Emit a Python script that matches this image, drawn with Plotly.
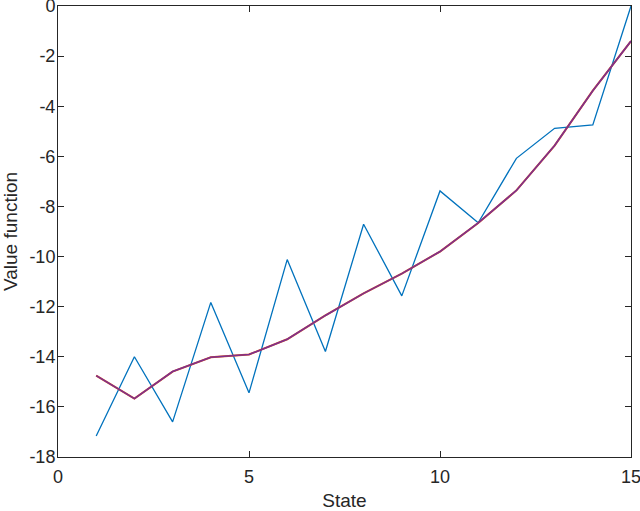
import plotly.graph_objects as go

states = list(range(1, 16))
value_blue = [-17.16, -14.0, -16.6, -11.83, -15.44, -10.12, -13.79, -8.71,
              -11.57, -7.38, -8.65, -6.08, -4.88, -4.75, 0.0]
value_orange = [-14.75, -15.67, -14.59, -14.02, -13.91, -13.3, -12.35, -11.47,
                -10.68, -9.8, -8.66, -7.36, -5.57, -3.38, -1.4]
value_purple = value_orange

x_ticks = [0, 5, 10, 15]
y_ticks = list(range(-18, 1, 2))

fig = go.Figure()
fig.add_trace(go.Scatter(x=states, y=value_blue, mode="lines",
                         line=dict(color="#0072BD", width=1.3)))
fig.add_trace(go.Scatter(x=states, y=value_orange, mode="lines",
                         line=dict(color="#D95319", width=2)))
fig.add_trace(go.Scatter(x=states, y=value_purple, mode="lines",
                         line=dict(color="#7E2F8E", width=1.6)))

axis_style = dict(showgrid=False, zeroline=False, showline=True, linecolor="#262626",
                  linewidth=1, mirror="ticks", ticks="inside", ticklen=6,
                  tickcolor="#262626", tickfont=dict(size=18, color="#262626"),
                  automargin=False, ticklabeloverflow="allow")

fig.update_xaxes(range=[0, 15], tickvals=x_ticks, ticktext=[str(t) for t in x_ticks],
                 ticklabelstandoff=3,
                 title=dict(text="State", font=dict(size=19, color="#262626"), standoff=8),
                 **axis_style)
fig.update_yaxes(range=[-18, 0], tickvals=y_ticks, ticktext=[str(t) for t in y_ticks],
                 ticklabelstandoff=-2,
                 title=dict(text="Value function", font=dict(size=19, color="#262626"), standoff=7),
                 **axis_style)

fig.update_layout(width=640, height=511, showlegend=False,
                  plot_bgcolor="white", paper_bgcolor="white",
                  font=dict(family="Liberation Sans Narrow, Liberation Sans, Arial, sans-serif"),
                  margin=dict(l=58, r=9, t=6, b=54))

# the page body has an 8px default margin; drop it so the figure sits at 0,0
fig.write_html("out.html", config={"displayModeBar": False},
               post_script="document.body.style.margin='0';")
